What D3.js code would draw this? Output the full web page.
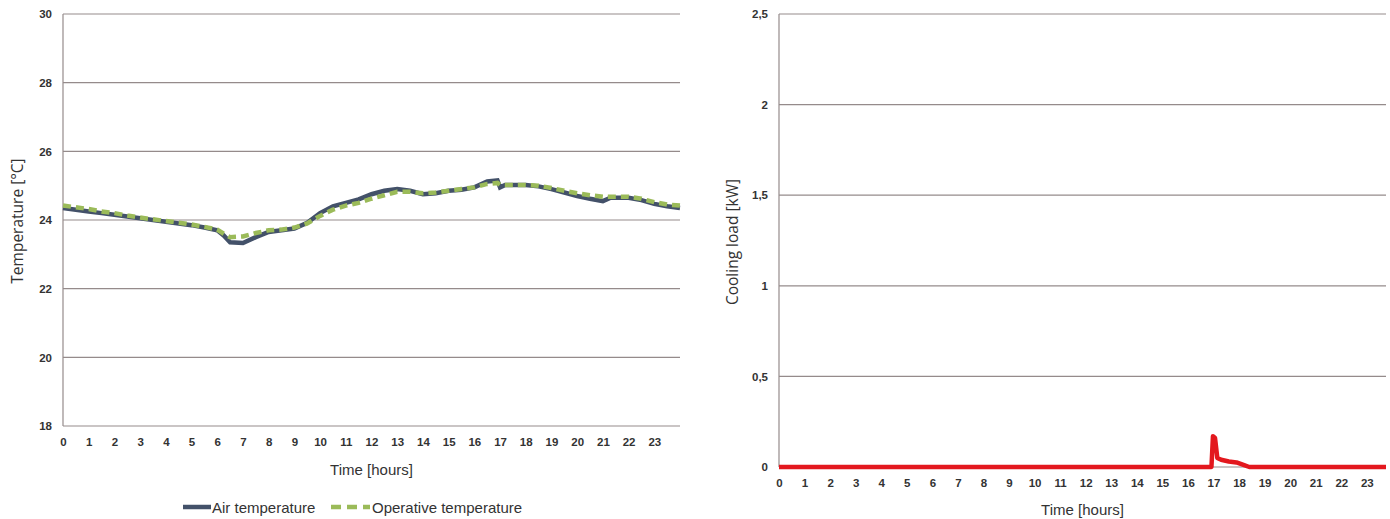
<!DOCTYPE html>
<html>
<head>
<meta charset="utf-8">
<script src="https://cdn.jsdelivr.net/npm/d3@7"></script>
<style>
  body { margin: 0; background: #fff; }
  text { font-family: 'Liberation Sans Narrow', 'Liberation Sans', sans-serif; fill: #333; }
</style>
</head>
<body>
<svg id="chart" width="1390" height="519"></svg>
<script>
// data
const hourTicks = d3.range(0, 24)
const tempTicks = [18, 20, 22, 24, 26, 28, 30]
const loadTicks = [0, 0.5, 1, 1.5, 2, 2.5]

const tempHours = [0, 0.5, 1, 1.5, 2, 2.5, 3, 3.5, 4, 4.5, 5, 5.5, 6, 6.25, 6.5, 7, 7.5, 8, 8.5, 9, 9.5, 10, 10.5, 11, 11.5, 12, 12.5, 13, 13.5, 14, 14.5, 15, 15.5, 16, 16.5, 16.9, 17, 17.2, 17.5, 18, 18.5, 19, 19.5, 20, 20.5, 21, 21.3, 22, 22.5, 23, 23.5, 24]
const airTemp = [24.35, 24.3, 24.25, 24.2, 24.15, 24.1, 24.05, 24.0, 23.95, 23.9, 23.85, 23.78, 23.7, 23.55, 23.35, 23.33, 23.5, 23.65, 23.7, 23.75, 23.92, 24.2, 24.4, 24.5, 24.6, 24.75, 24.85, 24.9, 24.85, 24.75, 24.78, 24.85, 24.88, 24.95, 25.12, 25.15, 24.95, 25.02, 25.02, 25.02, 24.98, 24.9, 24.8, 24.7, 24.62, 24.55, 24.65, 24.65, 24.58, 24.47, 24.4, 24.35]
const operativeTemp = [24.42, 24.37, 24.32, 24.25, 24.2, 24.13, 24.07, 24.02, 23.97, 23.92, 23.87, 23.8, 23.72, 23.6, 23.5, 23.52, 23.62, 23.7, 23.72, 23.78, 23.9, 24.12, 24.3, 24.42, 24.5, 24.62, 24.72, 24.82, 24.82, 24.78, 24.8, 24.85, 24.9, 24.95, 25.05, 25.08, 25.02, 25.02, 25.02, 25.02, 25.0, 24.93, 24.85, 24.78, 24.72, 24.68, 24.68, 24.68, 24.62, 24.52, 24.45, 24.42]

const loadHours = [0, 16.92, 16.98, 17.06, 17.15, 17.3, 17.6, 17.9, 18.2, 18.4, 23.75]
const coolingLoad = [0, 0, 0.17, 0.16, 0.05, 0.04, 0.03, 0.025, 0.01, 0, 0]

const gridColor = '#958b8b'
const svg = d3.select('#chart')

const commaFormat = d => String(d).replace('.', ',')

function panel(opts) {
  const g = svg.append('g')
  const x = d3.scaleLinear().domain(opts.xDomain).range([opts.left, opts.right])
  const y = d3.scaleLinear().domain(opts.yDomain).range([opts.bottom, opts.top])

  // gridlines
  g.append('g')
    .selectAll('line')
    .data(opts.yTicks)
    .enter()
    .append('line')
    .attr('x1', opts.left)
    .attr('x2', opts.right)
    .attr('y1', d => y(d))
    .attr('y2', d => y(d))
    .attr('stroke', gridColor)
    .attr('stroke-width', 1.2)

  g.append('line')
    .attr('x1', opts.left)
    .attr('x2', opts.left)
    .attr('y1', opts.top)
    .attr('y2', opts.bottom)
    .attr('stroke', gridColor)
    .attr('stroke-width', 1.2)

  // y tick labels
  const yAxis = d3.axisLeft(y).tickValues(opts.yTicks).tickSize(0).tickPadding(11).tickFormat(commaFormat)
  g.append('g')
    .attr('transform', 'translate(' + opts.left + ',0)')
    .call(yAxis)
    .call(a => a.select('.domain').remove())
    .selectAll('text')
    .style('font-family', "'Liberation Sans Narrow', sans-serif")
    .style('font-size', '11.5px')
    .style('font-weight', 'bold')
    .attr('fill', '#3a3a3a')

  // x tick labels
  const xAxis = d3.axisBottom(x).tickValues(hourTicks).tickSize(0).tickPadding(12).tickFormat(d => d)
  g.append('g')
    .attr('transform', 'translate(0,' + opts.bottom + ')')
    .call(xAxis)
    .call(a => a.select('.domain').remove())
    .selectAll('text')
    .style('font-family', "'Liberation Sans Narrow', sans-serif")
    .style('font-size', '11.5px')
    .style('font-weight', 'bold')
    .attr('fill', '#3a3a3a')

  g.append('text')
    .attr('x', (opts.left + opts.right) / 2)
    .attr('y', opts.bottom + opts.xTitleOffset)
    .attr('text-anchor', 'middle')
    .style('font-size', '15px')
    .text('Time [hours]')

  g.append('text')
    .attr('transform', 'translate(' + opts.yTitleX + ',' + opts.yTitleY + ') rotate(-90)')
    .attr('text-anchor', 'middle')
    .style('font-family', "'Open Sans', sans-serif")
    .style('font-size', '15.5px')
    .text(opts.yTitle)

  return { g, x, y }
}

// left panel: temperatures
const left = panel({
  left: 63, right: 680, top: 14, bottom: 426,
  xDomain: [0, 24], yDomain: [18, 30], yTicks: tempTicks,
  xTitleOffset: 49, yTitle: 'Temperature [°C]', yTitleX: 23, yTitleY: 221
})

const tempLine = d3.line().x(d => left.x(d[0])).y(d => left.y(d[1]))

left.g.append('path')
  .datum(tempHours.map((h, i) => [h, airTemp[i]]))
  .attr('d', tempLine)
  .attr('fill', 'none')
  .attr('stroke', '#435169')
  .attr('stroke-width', 4.5)

left.g.append('path')
  .datum(tempHours.map((h, i) => [h, operativeTemp[i]]))
  .attr('d', tempLine)
  .attr('fill', 'none')
  .attr('stroke', '#9bbb59')
  .attr('stroke-width', 4.5)
  .attr('stroke-dasharray', '8,5')

// legend
const legend = svg.append('g').attr('transform', 'translate(0,507)')
legend.append('line')
  .attr('x1', 183).attr('x2', 211).attr('y1', 0).attr('y2', 0)
  .attr('stroke', '#435169').attr('stroke-width', 4.5)
legend.append('text')
  .attr('x', 212).attr('y', 5.5)
  .style('font-size', '15px')
  .text('Air temperature')
legend.append('line')
  .attr('x1', 331).attr('x2', 370).attr('y1', 0).attr('y2', 0)
  .attr('stroke', '#9bbb59').attr('stroke-width', 4.5)
  .attr('stroke-dasharray', '10,6')
legend.append('text')
  .attr('x', 372).attr('y', 5.5)
  .style('font-size', '15px')
  .text('Operative temperature')

// right panel: cooling load
const right = panel({
  left: 779, right: 1386, top: 14, bottom: 467,
  xDomain: [0, 23.75], yDomain: [0, 2.5], yTicks: loadTicks,
  xTitleOffset: 48, yTitle: 'Cooling load [kW]', yTitleX: 738, yTitleY: 242
})

right.g.append('path')
  .datum(loadHours.map((h, i) => [h, coolingLoad[i]]))
  .attr('d', d3.line().x(d => right.x(d[0])).y(d => right.y(d[1])))
  .attr('fill', 'none')
  .attr('stroke', '#e3181e')
  .attr('stroke-width', 4.5)
  .attr('stroke-linejoin', 'round')
</script>
</body>
</html>
